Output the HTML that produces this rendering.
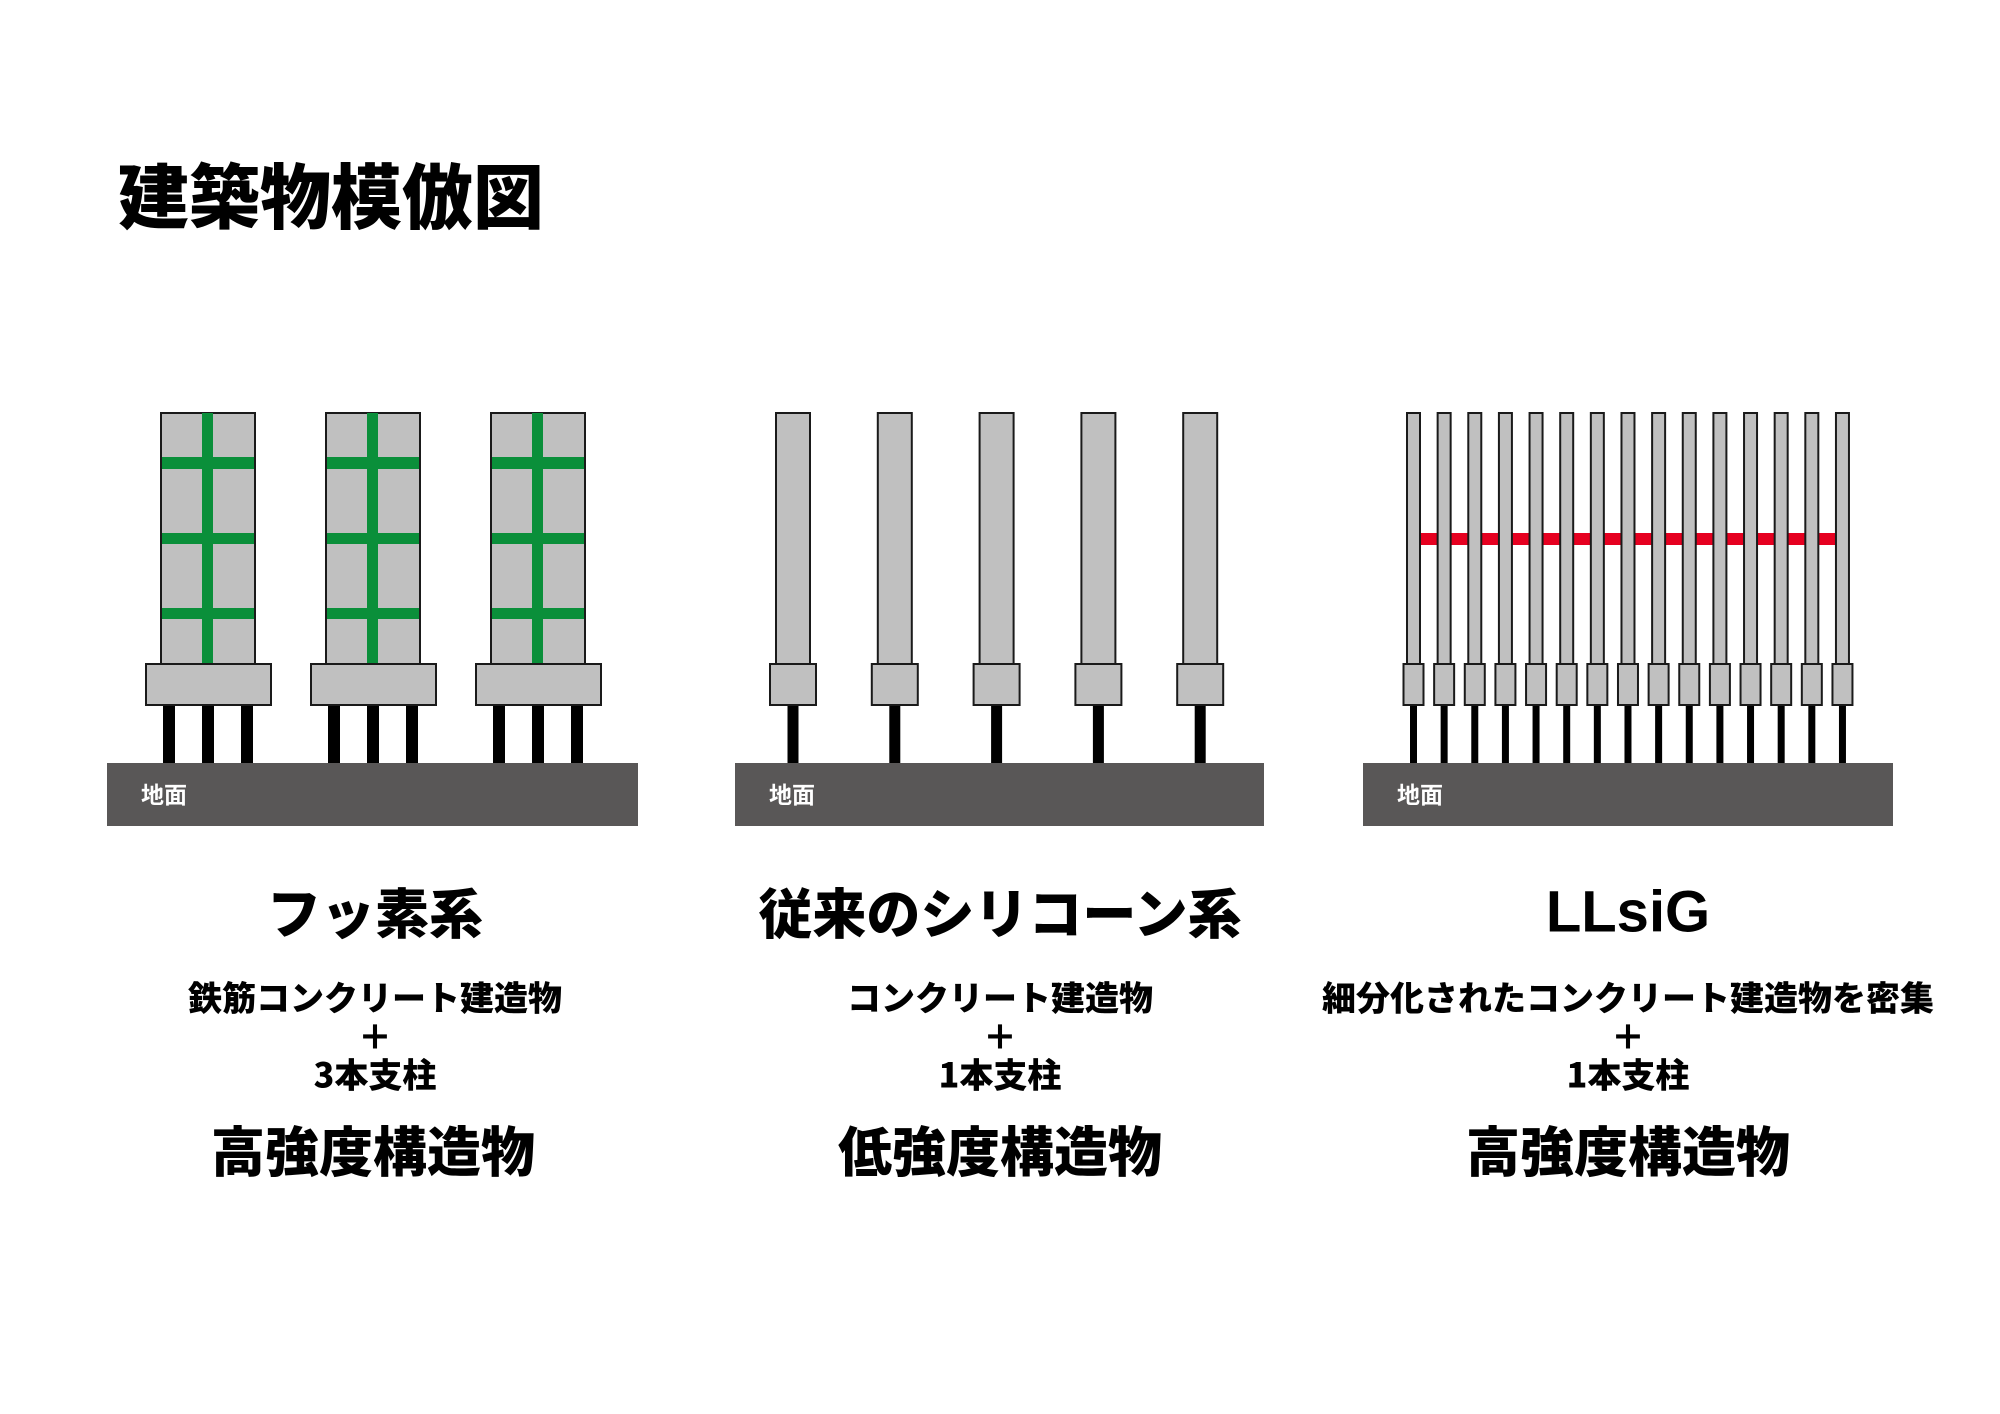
<!DOCTYPE html>
<html><head><meta charset="utf-8"><style>
html,body{margin:0;padding:0;background:#fff;}
svg{display:block;}
text{font-family:"Liberation Sans","Noto Sans CJK JP",sans-serif;}
.cjk{font-family:"Noto Sans CJK JP","Liberation Sans",sans-serif;}
</style></head><body>
<svg width="2000" height="1414" viewBox="0 0 2000 1414" xmlns="http://www.w3.org/2000/svg">
<rect width="2000" height="1414" fill="#fff"/>
<text class="cjk" x="118" y="193" font-size="71" font-weight="900" dominant-baseline="central" fill="#000">建築物模倣図</text>

<!-- grounds -->
<rect x="107" y="763" width="531" height="63" fill="#595757"/>
<rect x="735" y="763" width="529" height="63" fill="#595757"/>
<rect x="1363" y="763" width="530" height="63" fill="#595757"/>
<g class="cjk" font-size="23" font-weight="700" fill="#fff">
<text class="cjk" x="141" y="803">地面</text>
<text class="cjk" x="769" y="803">地面</text>
<text class="cjk" x="1397" y="803">地面</text>
</g>

<!-- left panel -->
<g id="b1">
<rect x="161" y="413" width="94" height="251" fill="#c0c0c0" stroke="#1a1a1a" stroke-width="2"/>
<rect x="202" y="413" width="11" height="251" fill="#0a8f3a"/>
<rect x="162" y="457" width="92" height="12" fill="#0a8f3a"/>
<rect x="162" y="533" width="92" height="11" fill="#0a8f3a"/>
<rect x="162" y="608" width="92" height="11" fill="#0a8f3a"/>
<rect x="146" y="664" width="125" height="41" fill="#c0c0c0" stroke="#1a1a1a" stroke-width="2"/>
<rect x="163" y="706" width="12" height="57" fill="#000"/>
<rect x="202" y="706" width="12" height="57" fill="#000"/>
<rect x="241" y="706" width="12" height="57" fill="#000"/>
</g>
<use href="#b1" x="165"/>
<use href="#b1" x="330"/>

<!-- middle panel -->
<g id="m1">
<rect x="776" y="413" width="34" height="251" fill="#c0c0c0" stroke="#1a1a1a" stroke-width="2"/>
<rect x="770" y="664" width="46" height="41" fill="#c0c0c0" stroke="#1a1a1a" stroke-width="2"/>
<rect x="787.5" y="706" width="11" height="57" fill="#000"/>
</g>
<use href="#m1" x="101.8"/>
<use href="#m1" x="203.6"/>
<use href="#m1" x="305.4"/>
<use href="#m1" x="407.2"/>

<!-- right panel -->
<rect x="1420" y="533" width="415" height="12" fill="#e60020"/>
<g id="r1">
<rect x="1407" y="413" width="13" height="251" fill="#c0c0c0" stroke="#1a1a1a" stroke-width="2"/>
<rect x="1403.5" y="664" width="20" height="41" fill="#c0c0c0" stroke="#1a1a1a" stroke-width="2"/>
<rect x="1410" y="706" width="7" height="57" fill="#000"/>
</g>
<use href="#r1" x="30.64"/><use href="#r1" x="61.28"/><use href="#r1" x="91.92"/>
<use href="#r1" x="122.56"/><use href="#r1" x="153.2"/><use href="#r1" x="183.84"/>
<use href="#r1" x="214.48"/><use href="#r1" x="245.12"/><use href="#r1" x="275.76"/>
<use href="#r1" x="306.4"/><use href="#r1" x="337.04"/><use href="#r1" x="367.68"/>
<use href="#r1" x="398.32"/><use href="#r1" x="428.96"/>

<!-- captions -->
<g text-anchor="middle" fill="#000" font-weight="900" dominant-baseline="central">
<text class="cjk" x="375" y="910" font-size="54">フッ素系</text>
<text class="cjk" x="1000" y="910" font-size="54">従来のシリコーン系</text>
<text x="1628" y="912" font-size="58" font-weight="700">LLsiG</text>

<text class="cjk" x="375" y="996" font-size="34" font-weight="900">鉄筋コンクリート建造物</text>
<text class="cjk" x="375" y="1035" font-size="34" font-weight="900">＋</text>
<text class="cjk" x="375" y="1073" font-size="34" font-weight="900">3本支柱</text>

<text class="cjk" x="1000" y="996" font-size="34" font-weight="900">コンクリート建造物</text>
<text class="cjk" x="1000" y="1035" font-size="34" font-weight="900">＋</text>
<text class="cjk" x="1000" y="1073" font-size="34" font-weight="900">1本支柱</text>

<text class="cjk" x="1628" y="996" font-size="34" font-weight="900">細分化されたコンクリート建造物を密集</text>
<text class="cjk" x="1628" y="1035" font-size="34" font-weight="900">＋</text>
<text class="cjk" x="1628" y="1073" font-size="34" font-weight="900">1本支柱</text>

<text class="cjk" x="373" y="1148" font-size="54">高強度構造物</text>
<text class="cjk" x="1000" y="1148" font-size="54">低強度構造物</text>
<text class="cjk" x="1628" y="1148" font-size="54">高強度構造物</text>
</g>
</svg>
</body></html>
